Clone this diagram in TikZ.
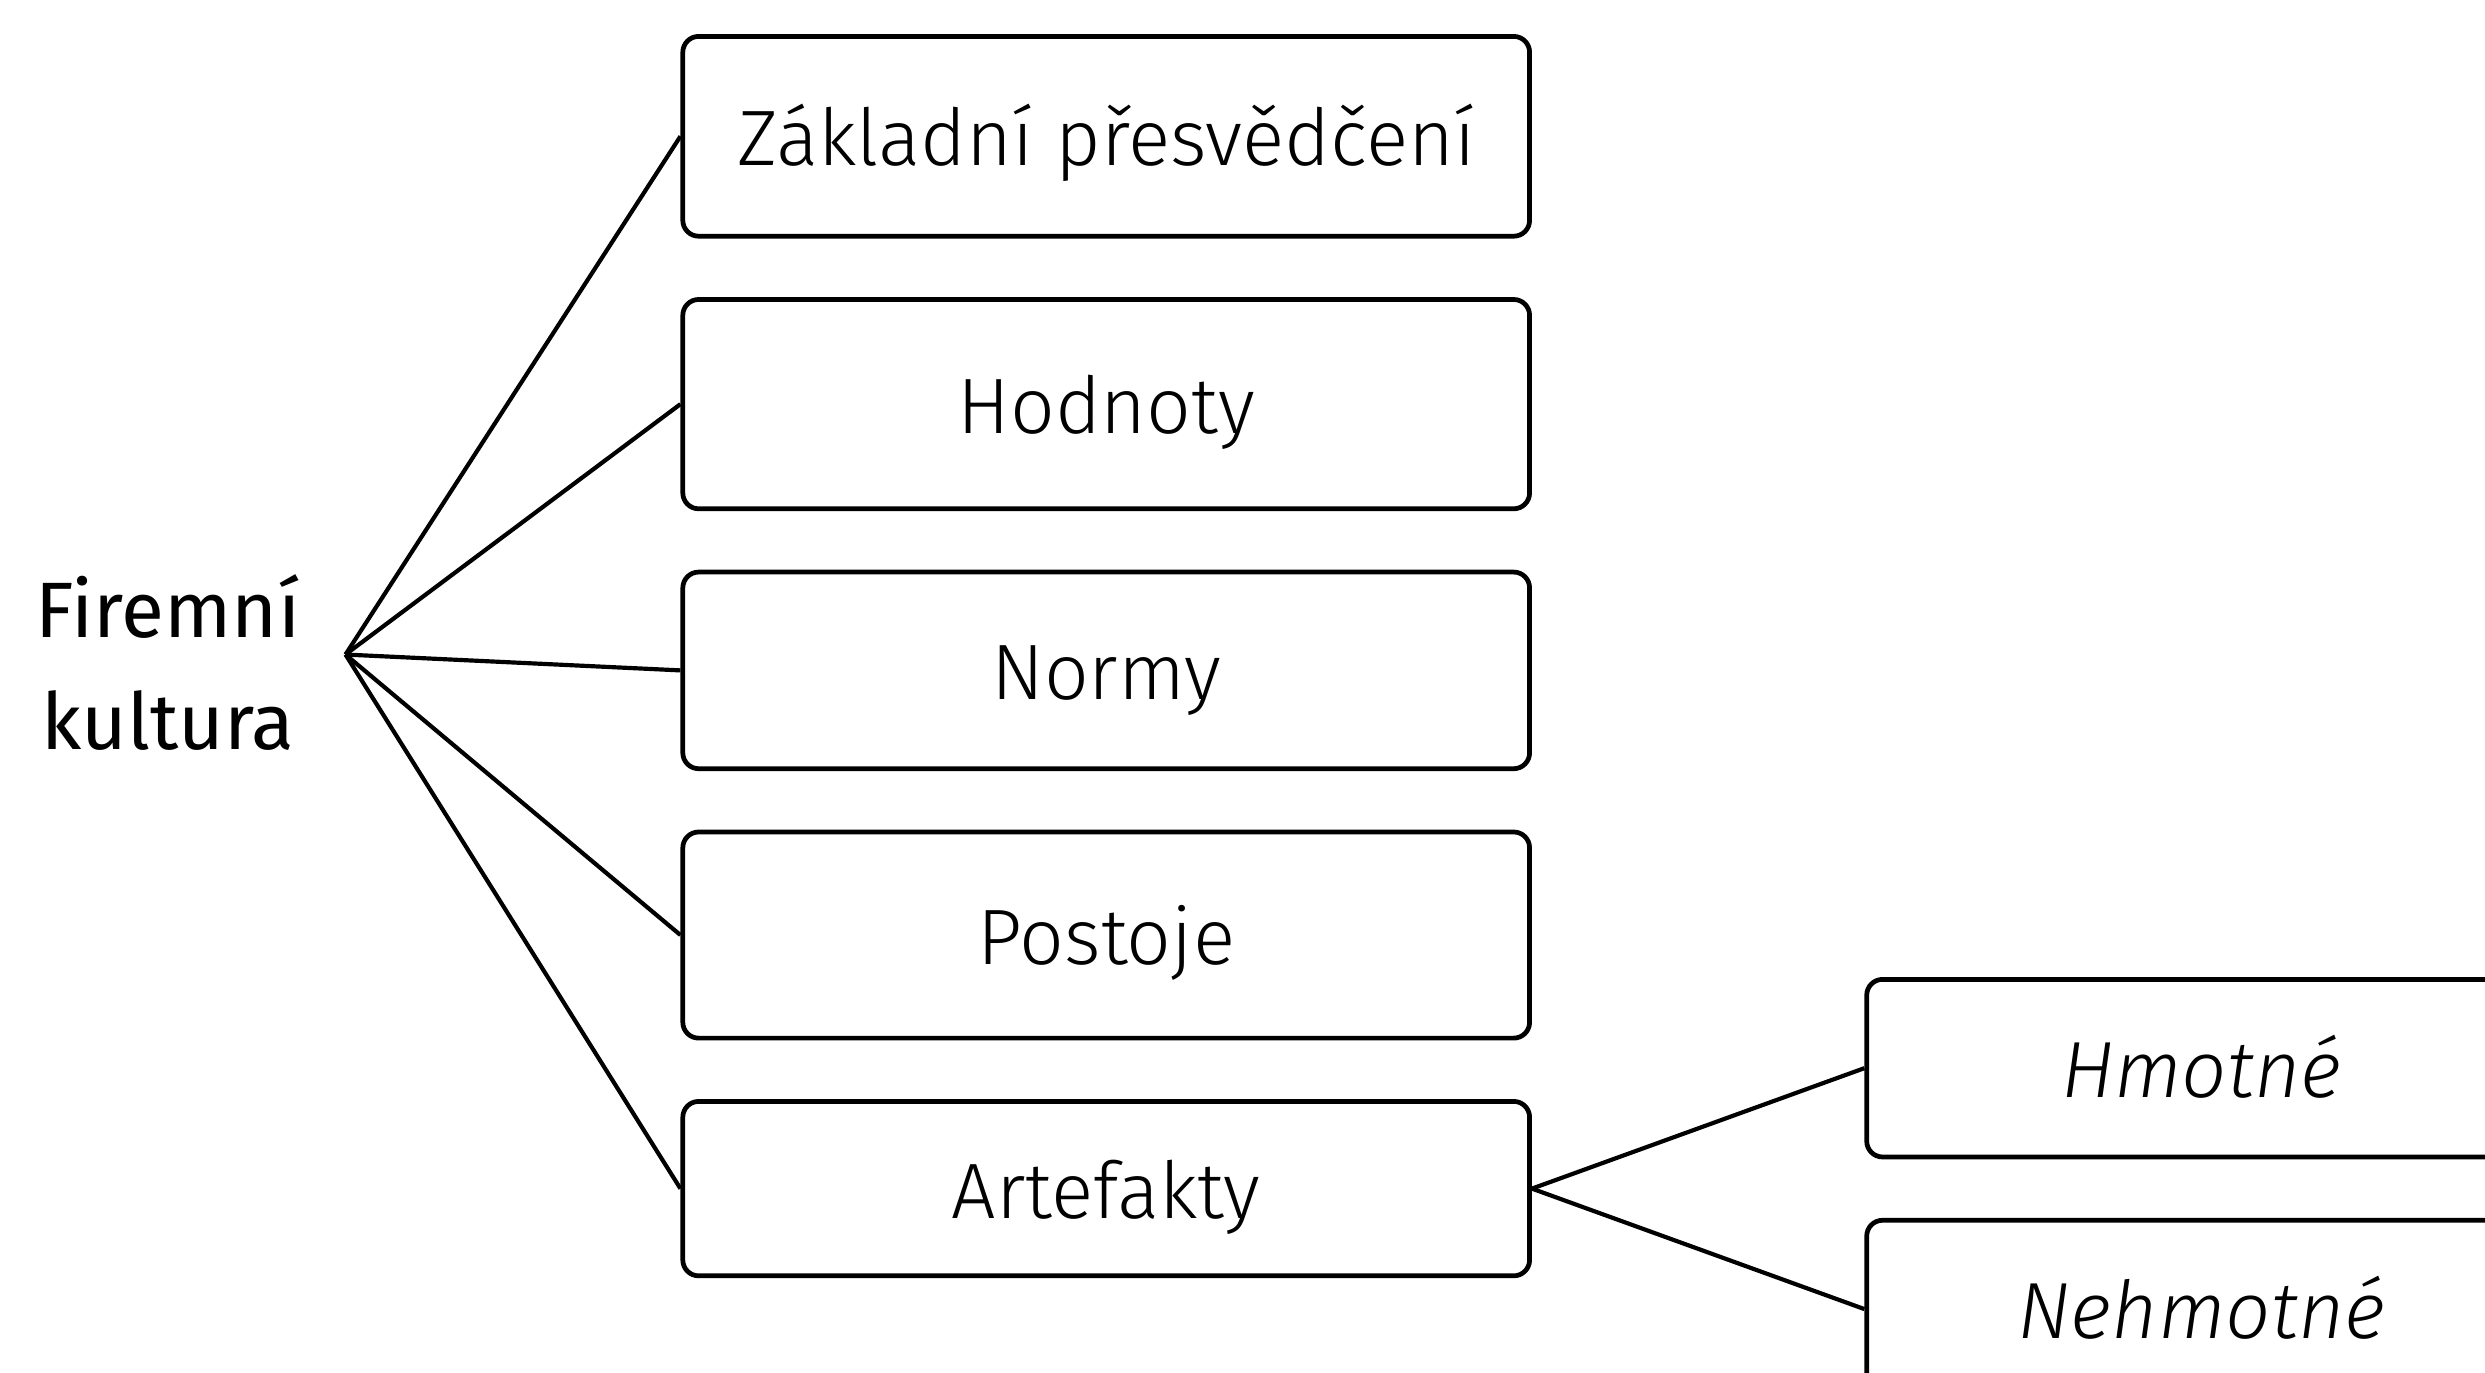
\documentclass[tikz,border=0pt]{standalone}
\usepackage{fontspec}
\setmainfont{Fira Sans}
\newfontfamily\lightfont{Fira Sans Light}
\begin{document}
\begin{tikzpicture}[x=0.01cm,y=-0.01cm,
  box/.style={draw,line width=0.85pt,rounded corners=0.1cm,minimum width=5.34cm,inner sep=0pt,text height=10.6pt,text depth=0pt,font=\lightfont\fontsize{14.1}{16}\selectfont},
  itbox/.style={box,minimum width=4.22cm,minimum height=1.12cm,font=\lightfont\itshape\fontsize{14.3}{16}\selectfont},
  conn/.style={line width=0.75pt}]
\useasboundingbox (0,0) rectangle (1568,866);
\node[font=\fontsize{14.1}{20}\selectfont,align=center] (fk) at (106,418) {Firemní\\kultura};
\coordinate (hub) at (218,413);
\node[box,minimum height=1.26cm] (b1) at (698,86) {Základní přesvědčení};
\node[box,minimum height=1.32cm] (b2) at (698,255) {Hodnoty};
\node[box,minimum height=1.24cm] (b3) at (698,423) {Normy};
\node[box,minimum height=1.30cm] (b4) at (698,590) {Postoje};
\node[box,minimum height=1.10cm] (b5) at (698,750) {Artefakty};
\node[itbox] (h) at (1389,674) {Hmotné};
\node[itbox] (n) at (1389,826) {Nehmotné};
\draw[conn] (hub) -- (b1.west);
\draw[conn] (hub) -- (b2.west);
\draw[conn] (hub) -- (b3.west);
\draw[conn] (hub) -- (b4.west);
\draw[conn] (hub) -- (b5.west);
\draw[conn] (b5.east) -- (h.west);
\draw[conn] (b5.east) -- (n.west);
\end{tikzpicture}
\end{document}
